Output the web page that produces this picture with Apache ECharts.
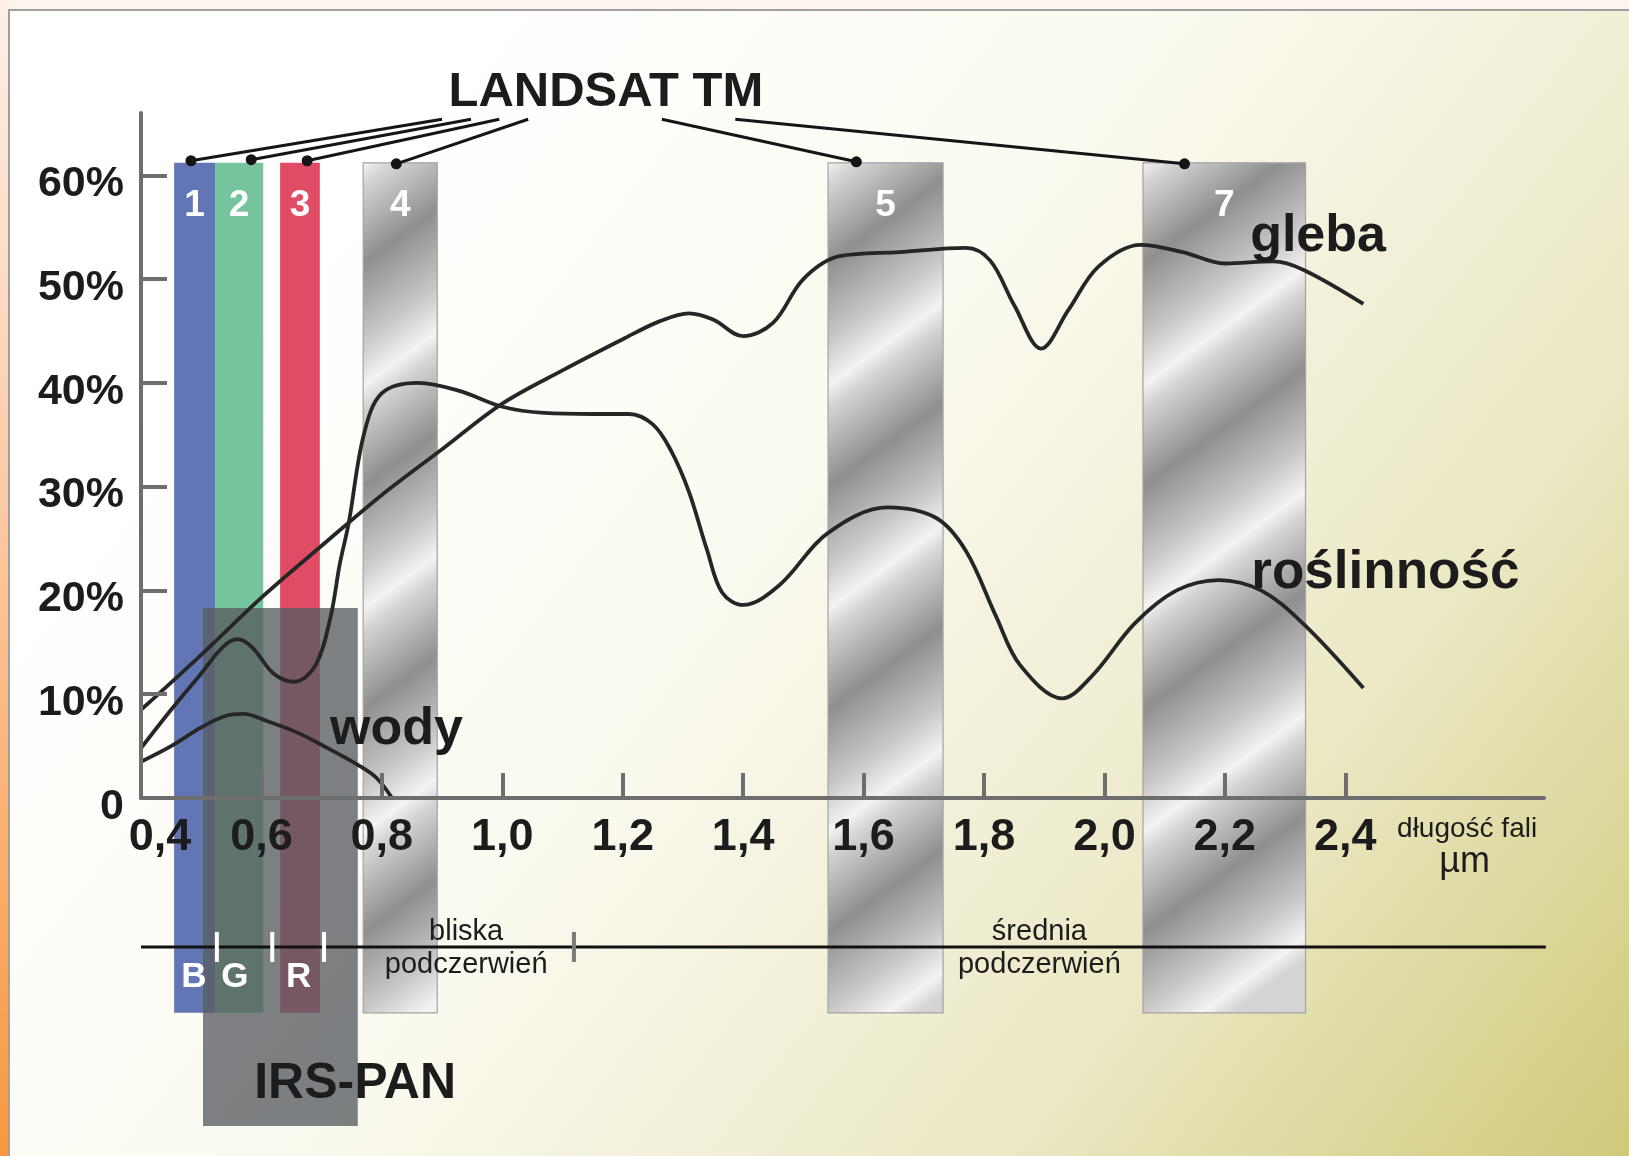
<!DOCTYPE html>
<html><head><meta charset="utf-8">
<script src="https://cdn.jsdelivr.net/npm/echarts@6/dist/echarts.min.js"></script>
<style>html,body{margin:0;padding:0;background:#fdf4ee}#c{width:1629px;height:1156px}</style>
</head><body><div id="c"></div>
<script>
// ---------- data ----------
const xTickValues = [0.6, 0.8, 1.0, 1.2, 1.4, 1.6, 1.8, 2.0, 2.2, 2.4];
const xLabelValues = [0.4, 0.6, 0.8, 1.0, 1.2, 1.4, 1.6, 1.8, 2.0, 2.2, 2.4];
const yTickValues = [10, 20, 30, 40, 50, 60];
const yLabelValues = [0, 10, 20, 30, 40, 50, 60];

// reflectance curves [wavelength µm, reflectance %]
const soil = [[0.40,8.5],[0.50,13.8],[0.60,19.3],[0.70,24.3],[0.80,29.2],[0.90,33.6],[1.00,38.0],[1.10,41.2],[1.20,44.2],[1.26,45.9],[1.31,46.7],[1.35,46.1],[1.40,44.5],[1.45,45.8],[1.50,50.0],[1.56,52.2],[1.66,52.6],[1.77,53.0],[1.81,51.8],[1.85,47.5],[1.895,43.3],[1.94,47.0],[1.99,51.2],[2.06,53.3],[2.13,52.6],[2.20,51.5],[2.28,51.7],[2.33,50.9],[2.43,47.6]];
const vegetation = [[0.40,4.8],[0.45,8.5],[0.50,12.0],[0.535,14.5],[0.56,15.3],[0.585,14.5],[0.62,12.0],[0.655,11.2],[0.69,12.8],[0.715,17.5],[0.73,22.5],[0.745,26.5],[0.77,35.0],[0.80,39.0],[0.86,40.0],[0.93,39.2],[1.00,37.7],[1.07,37.1],[1.15,37.0],[1.21,37.0],[1.25,36.0],[1.28,33.5],[1.31,29.5],[1.34,23.9],[1.365,19.8],[1.40,18.6],[1.46,20.5],[1.54,25.5],[1.64,28.0],[1.72,27.0],[1.77,23.8],[1.82,17.5],[1.86,12.8],[1.93,9.6],[1.98,11.8],[2.05,16.8],[2.12,20.0],[2.19,21.0],[2.26,20.0],[2.33,16.8],[2.43,10.6]];
const water = [[0.40,3.5],[0.45,5.0],[0.50,6.8],[0.54,7.9],[0.57,8.1],[0.61,7.4],[0.66,6.3],[0.71,4.8],[0.76,3.2],[0.79,2.0],[0.817,0]];

// Landsat TM bands
const bandNames = ['1','2','3','4','5','7'];
const bandFrom = [0.455, 0.523, 0.631, 0.769, 1.541, 2.064];
const bandTo   = [0.523, 0.603, 0.697, 0.892, 1.732, 2.334];
const bandTop = 61.2, bandBottom = -20.7;
// IRS-PAN band
const irsFrom = 0.503, irsTo = 0.760, irsTop = 18.3, irsBottom = -31.6;

// leader lines from "LANDSAT TM" to bands
const leaderStart = [[0.900,65.4],[0.948,65.4],[0.995,65.4],[1.043,65.4],[1.265,65.4],[1.387,65.4]];
const leaderEnd   = [[0.483,61.4],[0.583,61.5],[0.676,61.4],[0.824,61.1],[1.588,61.3],[2.133,61.1]];

// labels
const bigLabels = ['LANDSAT TM','gleba','roślinność','wody','IRS-PAN'];
const bigLabelPos = [[1.172,68.0],[2.242,54.1],[2.244,21.6],[0.714,6.6],[0.588,-27.6]];
const smallLabels = ['bliska','podczerwień','średnia','podczerwień'];
const smallLabelPos = [[0.94,-12.9],[0.94,-16.1],[1.892,-12.9],[1.892,-16.1]];
const rgbLabels = ['B','G','R'];
const rgbLabelPos = [[0.488,-17.3],[0.556,-17.3],[0.662,-17.3]];
const regionLine = [[0.4,-14.35,2.733,-14.35]];
const whiteTicks = [0.526, 0.618, 0.704];
const greyTicks = [1.119];
const tickSpan = [-12.9, -15.8];
const unitLabels = ['długość fali','µm'];
const unitPos = [[2.486,-3.0],[2.556,-6.2]];
const bandLabelLevel = 57.1;

// ---------- styles ----------
const FONT = '"Liberation Sans", Arial, Helvetica, sans-serif';
const INK = '#1c1c1c';
const AXIS = '#6e6e6e';
const bandFill = ['#6276b5', '#76c49d', '#e04c64', 'metal', 'metal', 'metal'];
const bigLabelSize = [49, 52, 53, 52, 50];

function metal(x, y, w, h) {
  const nx = 0.59, ny = 0.81, period = 180;
  const D = w * nx + h * ny;
  const n = D / period;
  const base = [[0,'#f3f3f3'],[0.1,'#d4d4d4'],[0.45,'#8f8f8f'],[0.8,'#c8c8c8']];
  const stops = [];
  for (let k = 0; k <= Math.ceil(n); k++) {
    for (const [o, c] of base) {
      const off = (k + o) / n;
      if (off <= 1) stops.push({offset: off, color: c});
    }
  }
  return new echarts.graphic.LinearGradient(x, y, x + nx * D, y + ny * D, stops, true);
}

const chart = echarts.init(document.getElementById('c'), null, {renderer: 'canvas'});

const curveStyle = {color: '#262626', width: 3.8};

const option = {
  animation: false,
  graphic: [
    {type: 'rect', z: -10, shape: {x: 0, y: 0, width: 1629, height: 1156}, style: {fill: '#fdf4ee'}},
    {type: 'rect', z: -10, shape: {x: 0, y: 0, width: 9, height: 1156},
      style: {fill: new echarts.graphic.LinearGradient(0, 0, 0, 1, [
        {offset: 0, color: '#fdf0e8'}, {offset: 0.45, color: '#fcc9a2'}, {offset: 1, color: '#f7983e'}])}},
    {type: 'rect', z: -10, shape: {x: 9, y: 10, width: 1640, height: 1160},
      style: {fill: new echarts.graphic.LinearGradient(350, 150, 1629, 1156, [
        {offset: 0, color: '#ffffff'}, {offset: 0.35, color: '#fbfaf0'},
        {offset: 0.7, color: '#ebe8c4'}, {offset: 1, color: '#cfca7a'}], true),
        stroke: '#a0a0a0', lineWidth: 2}}
  ],
  grid: {left: 141, right: 85, top: 113, bottom: 358, containLabel: false},
  xAxis: {
    type: 'value', min: 0.4, max: 2.73, z: 10,
    splitLine: {show: false},
    axisLine: {show: true, lineStyle: {color: AXIS, width: 4}},
    axisTick: {show: true, inside: true, length: 25, lineStyle: {color: AXIS, width: 4}, customValues: xTickValues},
    axisLabel: {
      customValues: xLabelValues, margin: 17,
      color: INK, fontFamily: FONT, fontWeight: 'bold', fontSize: 45,
      formatter: v => {
        const s = v.toFixed(1).replace('.', ',');
        return Math.abs(v - 0.4) < 1e-6 ? '{s|' + s + '}' : s;
      },
      rich: {s: {color: INK, fontFamily: FONT, fontWeight: 'bold', fontSize: 45, padding: [0, 0, 0, 38]}}
    }
  },
  yAxis: {
    type: 'value', min: 0, max: 66, z: 10,
    splitLine: {show: false},
    axisLine: {show: true, lineStyle: {color: AXIS, width: 4}},
    axisTick: {show: true, inside: true, length: 26, lineStyle: {color: AXIS, width: 4}, customValues: yTickValues},
    axisLabel: {
      customValues: yLabelValues, margin: 17,
      formatter: v => '{a|' + (v === 0 ? '0' : v + '%') + '}',
      rich: {a: {color: INK, fontFamily: FONT, fontWeight: 'bold', fontSize: 43, padding: [18, 0, 0, 0]}}
    }
  },
  series: [
    // Landsat bands
    {
      type: 'custom', clip: false, z: 2,
      data: bandFrom.map((f, i) => [f, bandTo[i], bandTop, bandBottom]),
      encode: {x: [0, 1], y: [2, 3]},
      renderItem: (params, api) => {
        const i = params.dataIndex;
        const tl = api.coord([api.value(0), api.value(2)]);
        const br = api.coord([api.value(1), api.value(3)]);
        const x = tl[0], y = tl[1], w = br[0] - tl[0], h = br[1] - tl[1];
        const isMetal = bandFill[i] === 'metal';
        const c = api.coord([(api.value(0) + api.value(1)) / 2, bandLabelLevel]);
        return {type: 'group', children: [
          {type: 'rect', shape: {x, y, width: w, height: h},
            style: {fill: isMetal ? metal(x, y, w, h) : bandFill[i], stroke: isMetal ? '#a3a3a3' : null, lineWidth: 1.2}},
          {type: 'text', x: c[0], y: c[1], style: {text: bandNames[i], fill: '#ffffff', fontFamily: FONT, fontWeight: 'bold', fontSize: 37, align: 'center', verticalAlign: 'middle'}}
        ]};
      }
    },
    // IRS-PAN overlay
    {
      type: 'custom', clip: false, z: 3,
      data: [[irsFrom, irsTo, irsTop, irsBottom]],
      encode: {x: [0, 1], y: [2, 3]},
      renderItem: (params, api) => {
        const tl = api.coord([api.value(0), api.value(2)]);
        const br = api.coord([api.value(1), api.value(3)]);
        return {type: 'rect', shape: {x: tl[0], y: tl[1], width: br[0] - tl[0], height: br[1] - tl[1]},
          style: {fill: 'rgba(88,92,97,0.78)'}};
      }
    },
    // region divider line and ticks
    {
      type: 'custom', clip: false, z: 4,
      data: regionLine,
      renderItem: (params, api) => {
        const a = api.coord([api.value(0), api.value(1)]);
        const b = api.coord([api.value(2), api.value(3)]);
        const children = [{type: 'line', shape: {x1: a[0], y1: a[1], x2: b[0], y2: b[1]}, style: {stroke: '#111', lineWidth: 3}}];
        whiteTicks.forEach(t => {
          const p = api.coord([t, tickSpan[0]]), q = api.coord([t, tickSpan[1]]);
          children.push({type: 'line', shape: {x1: p[0], y1: p[1], x2: q[0], y2: q[1]}, style: {stroke: '#ffffff', lineWidth: 4}});
        });
        greyTicks.forEach(t => {
          const p = api.coord([t, tickSpan[0]]), q = api.coord([t, tickSpan[1]]);
          children.push({type: 'line', shape: {x1: p[0], y1: p[1], x2: q[0], y2: q[1]}, style: {stroke: '#7a7a7a', lineWidth: 4}});
        });
        return {type: 'group', children};
      }
    },
    // curves
    {type: 'line', name: 'gleba', data: soil, smooth: 0.35, showSymbol: false, symbol: 'none', lineStyle: curveStyle, z: 5},
    {type: 'line', name: 'roślinność', data: vegetation, smooth: 0.35, showSymbol: false, symbol: 'none', lineStyle: curveStyle, z: 5},
    {type: 'line', name: 'wody', data: water, smooth: 0.35, showSymbol: false, symbol: 'none', lineStyle: curveStyle, z: 5},
    // leader lines
    {
      type: 'custom', clip: false, z: 6,
      data: leaderStart.map((s, i) => [s[0], s[1], leaderEnd[i][0], leaderEnd[i][1]]),
      renderItem: (params, api) => {
        const a = api.coord([api.value(0), api.value(1)]);
        const b = api.coord([api.value(2), api.value(3)]);
        return {type: 'group', children: [
          {type: 'line', shape: {x1: a[0], y1: a[1], x2: b[0], y2: b[1]}, style: {stroke: '#151515', lineWidth: 3}},
          {type: 'circle', shape: {cx: b[0], cy: b[1], r: 5.5}, style: {fill: '#151515'}}
        ]};
      }
    },
    // big labels
    {
      type: 'custom', clip: false, z: 7,
      data: bigLabelPos,
      renderItem: (params, api) => {
        const i = params.dataIndex;
        const p = api.coord([api.value(0), api.value(1)]);
        return {type: 'text', x: p[0], y: p[1], style: {text: bigLabels[i], fill: INK, fontFamily: FONT, fontWeight: 'bold',
          fontSize: bigLabelSize[i], align: i === 0 ? 'center' : 'left', verticalAlign: 'middle'}};
      }
    },
    // small region labels
    {
      type: 'custom', clip: false, z: 7,
      data: smallLabelPos,
      renderItem: (params, api) => {
        const i = params.dataIndex;
        const p = api.coord([api.value(0), api.value(1)]);
        return {type: 'text', x: p[0], y: p[1], style: {text: smallLabels[i], fill: INK, fontFamily: FONT,
          fontSize: 29, align: 'center', verticalAlign: 'middle'}};
      }
    },
    // B G R labels
    {
      type: 'custom', clip: false, z: 7,
      data: rgbLabelPos,
      renderItem: (params, api) => {
        const i = params.dataIndex;
        const p = api.coord([api.value(0), api.value(1)]);
        return {type: 'text', x: p[0], y: p[1], style: {text: rgbLabels[i], fill: '#ffffff', fontFamily: FONT, fontWeight: 'bold',
          fontSize: 35, align: 'center', verticalAlign: 'middle'}};
      }
    },
    // axis unit labels
    {
      type: 'custom', clip: false, z: 7,
      data: unitPos,
      renderItem: (params, api) => {
        const i = params.dataIndex;
        const p = api.coord([api.value(0), api.value(1)]);
        return {type: 'text', x: p[0], y: p[1], style: {text: unitLabels[i], fill: INK, fontFamily: FONT,
          fontSize: i === 0 ? 28 : 36, align: 'left', verticalAlign: 'middle'}};
      }
    }
  ]
};
chart.setOption(option);
</script>
</body></html>
